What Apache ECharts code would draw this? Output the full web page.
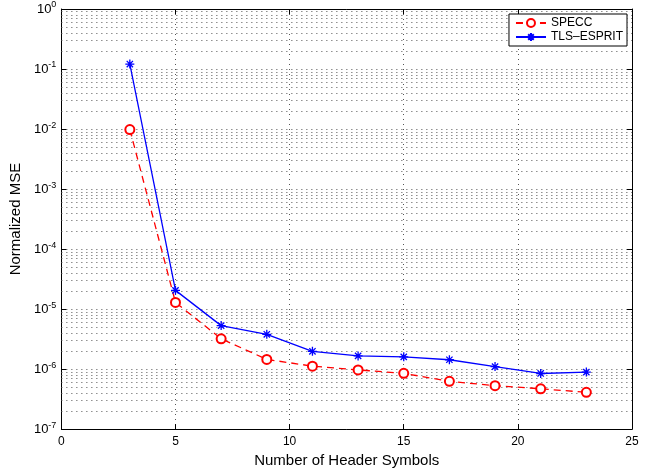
<!DOCTYPE html>
<html>
<head>
<meta charset="utf-8">
<script src="https://cdn.jsdelivr.net/npm/echarts@6/dist/echarts.min.js"></script>
<style>
  html, body { margin: 0; padding: 0; background: #fff; }
  #chart { width: 655px; height: 473px; }
</style>
</head>
<body>
<div id="chart"></div>
<script>
var headerSymbols = [3, 5, 7, 9, 11, 13, 15, 17, 19, 21, 23]
var specc = [9.8e-3, 1.29e-5, 3.2e-6, 1.45e-6, 1.12e-6, 9.7e-7, 8.5e-7, 6.25e-7, 5.3e-7, 4.7e-7, 4.1e-7]
var tlsEsprit = [0.121, 2.05e-5, 5.3e-6, 3.8e-6, 1.98e-6, 1.66e-6, 1.6e-6, 1.43e-6, 1.1e-6, 8.45e-7, 8.9e-7]
var seriesNames = ['SPECC', 'TLS\u2013ESPRIT']

// minor log grid lines 2..9 in every decade
var minorLines = []
for (var e = -7; e < 0; e++) {
    for (var m = 2; m <= 9; m++) {
        var v = m * Math.pow(10, e)
        minorLines.push({ coords: [[0, v], [25, v]] })
    }
}

var font = "'Liberation Sans', Arial, Helvetica, sans-serif"
var asterisk = 'path://M0,-10L0,10M-10,0L10,0M-7,-7L7,7M-7,7L7,-7'

function pairs(ys) {
    return headerSymbols.map(function (x, i) { return [x, ys[i]] })
}

var chartDom = document.getElementById('chart')
var myChart = echarts.init(chartDom)

var frameLine = { show: true, onZero: false, lineStyle: { color: '#000', width: 1 } }
var dots = { color: '#555', width: 1, type: [1, 4], opacity: 1 }

var options = {
    animation: false,
    textStyle: { fontFamily: font },
    grid: { left: 61, right: 23, top: 9, bottom: 36 },
    legend: {
        data: seriesNames,
        orient: 'vertical',
        right: 28,
        top: 14,
        itemGap: 2,
        itemWidth: 30,
        itemHeight: 10,
        padding: [3, 4, 3, 6],
        backgroundColor: '#fff',
        borderColor: '#000',
        borderWidth: 1,
        borderRadius: 0,
        textStyle: { fontSize: 12, color: '#000', fontFamily: font }
    },
    xAxis: [
        {
            type: 'value',
            min: 0,
            max: 25,
            interval: 5,
            name: 'Number of Header Symbols',
            nameLocation: 'middle',
            nameGap: 20,
            nameTextStyle: { fontSize: 15, color: '#000' },
            axisLine: frameLine,
            axisTick: { show: true, inside: true, length: 5, lineStyle: { color: '#000' } },
            axisLabel: { fontSize: 12, color: '#000', margin: 7 },
            splitLine: { show: true, lineStyle: dots }
        },
        {
            type: 'value',
            position: 'top',
            min: 0,
            max: 25,
            interval: 5,
            axisLine: frameLine,
            axisTick: { show: true, inside: true, length: 5, lineStyle: { color: '#000' } },
            axisLabel: { show: false },
            splitLine: { show: false }
        }
    ],
    yAxis: [
        {
            type: 'log',
            logBase: 10,
            min: 1e-7,
            max: 1,
            name: 'Normalized MSE',
            nameLocation: 'middle',
            nameGap: 34,
            nameTextStyle: { fontSize: 15, color: '#000' },
            axisLine: frameLine,
            axisTick: { show: true, inside: true, length: 5, lineStyle: { color: '#000' } },
            axisLabel: {
                color: '#000',
                margin: 5,
                formatter: function (v) {
                    return '10{sup|' + Math.round(Math.log10(v)) + '}'
                },
                rich: {
                    sup: { fontSize: 9, verticalAlign: 'top', padding: [0, 0, 8, 0], color: '#000' }
                },
                fontSize: 13
            },
            splitLine: { show: true, lineStyle: dots }
        },
        {
            type: 'log',
            logBase: 10,
            min: 1e-7,
            max: 1,
            position: 'right',
            axisLine: frameLine,
            axisTick: { show: true, inside: true, length: 5, lineStyle: { color: '#000' } },
            axisLabel: { show: false },
            splitLine: { show: false }
        }
    ],
    series: [
        {
            type: 'lines',
            coordinateSystem: 'cartesian2d',
            silent: true,
            z: 1,
            lineStyle: dots,
            data: minorLines
        },
        {
            type: 'line',
            name: seriesNames[0],
            data: pairs(specc),
            symbol: 'emptyCircle',
            symbolSize: 9,
            color: '#ff0000',
            itemStyle: { color: '#ff0000', borderColor: '#ff0000', borderWidth: 1 },
            lineStyle: { color: '#ff0000', width: 1.3, type: [7, 5] },
            z: 3
        },
        {
            type: 'line',
            name: seriesNames[1],
            data: pairs(tlsEsprit),
            symbol: asterisk,
            symbolSize: 9,
            color: '#0000ff',
            itemStyle: { color: '#0000ff', borderColor: '#0000ff', borderWidth: 1.3 },
            lineStyle: { color: '#0000ff', width: 1.3 },
            z: 4
        }
    ]
}
myChart.setOption(options)
</script>
</body>
</html>
